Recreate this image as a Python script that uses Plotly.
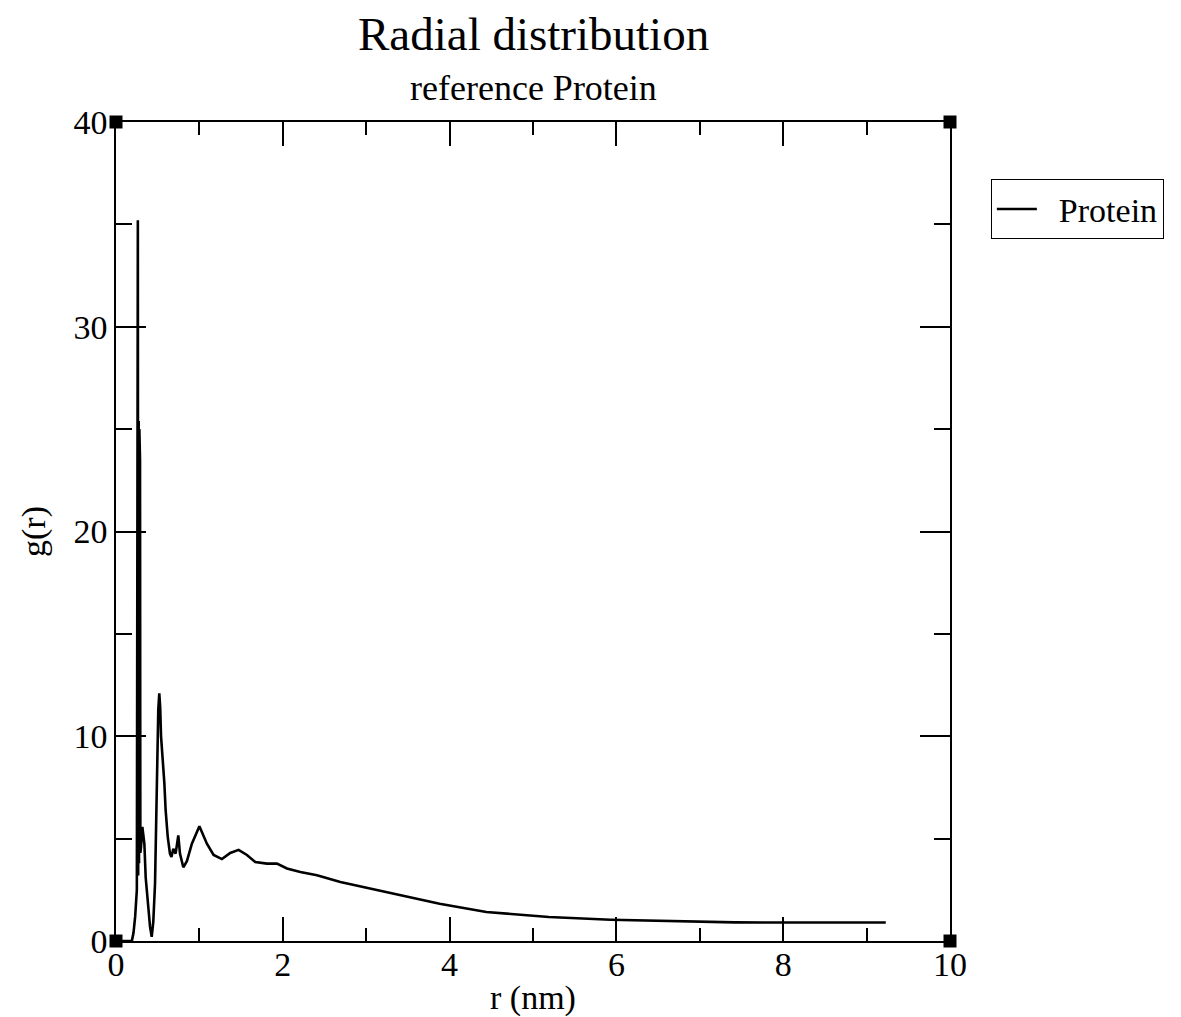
import plotly.graph_objects as go

# ---- data ----
r_nm = [0, 0.19, 0.21, 0.23, 0.25, 0.262, 0.266, 0.272, 0.276, 0.280, 0.284, 0.288, 0.292,
        0.30, 0.316, 0.34, 0.356, 0.38, 0.408, 0.428, 0.447, 0.468, 0.48, 0.495, 0.507,
        0.519, 0.53, 0.54, 0.56, 0.58, 0.595, 0.62, 0.647, 0.665, 0.687, 0.715, 0.747,
        0.767, 0.807, 0.85, 0.91, 1.0, 1.09, 1.17, 1.27, 1.37, 1.47, 1.57, 1.67, 1.81,
        1.93, 2.05, 2.21, 2.41, 2.69, 3.01, 3.29, 3.61, 3.88, 4.44, 5.19, 5.93, 6.68,
        7.42, 8.2, 9.23]
g_r = [0, 0, 0.4, 1.2, 2.5, 35.2, 3.2, 25.4, 3.8, 25.0, 4.0, 23.5, 4.3,
       4.6, 5.57, 4.76, 3.1, 1.8, 0.7, 0.2, 0.93, 2.8, 5.2, 9.6, 11.3,
       12.1, 11.4, 10.0, 9.0, 7.7, 6.4, 5.1, 4.27, 4.1, 4.5, 4.27, 5.16,
       4.27, 3.6, 3.9, 4.75, 5.6, 4.75, 4.2, 4.0, 4.3, 4.45, 4.2, 3.86, 3.78,
       3.78, 3.54, 3.37, 3.21, 2.88, 2.59, 2.35, 2.05, 1.82, 1.42, 1.17, 1.04, 0.96,
       0.91, 0.9, 0.9]
series_name = "Protein"
title_text = "Radial distribution"
subtitle_text = "reference Protein"
x_title = "r (nm)"
y_title = "g(r)"
X_RANGE = [0, 10]
Y_RANGE = [0, 40]
x_tickvals = [0, 2, 4, 6, 8, 10]
y_tickvals = [0, 10, 20, 30, 40]

FONT = "Liberation Serif, Times New Roman, serif"

fig = go.Figure()
fig.add_trace(go.Scatter(x=r_nm, y=g_r, mode="lines", name="\u2002" + series_name,
                         line=dict(color="black", width=2.6)))
# corner squares of the frame (xmgrace style)
fig.add_trace(go.Scatter(x=[X_RANGE[0], X_RANGE[1], X_RANGE[0], X_RANGE[1]],
                         y=[Y_RANGE[0], Y_RANGE[0], Y_RANGE[1], Y_RANGE[1]],
                         mode="markers", showlegend=False, cliponaxis=False,
                         marker=dict(symbol="square", size=13, color="black"),
                         hoverinfo="skip"))

axis_common = dict(showgrid=False, zeroline=False, showline=True, linecolor="black",
                   linewidth=1.5, mirror="allticks", ticks="inside", tickcolor="black",
                   tickwidth=1.5, automargin=False,
                   tickfont=dict(family=FONT, size=34, color="black"))

fig.update_xaxes(range=X_RANGE, tickvals=x_tickvals, ticklen=24, ticklabelstandoff=-8,
                 minor=dict(dtick=1, ticklen=13, tickcolor="black", tickwidth=1.5, ticks="inside"),
                 title=dict(text=x_title, font=dict(family=FONT, size=34, color="black"), standoff=23),
                 **axis_common)
fig.update_yaxes(range=Y_RANGE, tickvals=y_tickvals, ticklen=30,
                 minor=dict(dtick=5, ticklen=16, tickcolor="black", tickwidth=1.5, ticks="inside"),
                 title=dict(text=y_title, font=dict(family=FONT, size=34, color="black"), standoff=18),
                 **axis_common)

# the page body adds an 8 px offset, so the figure is 8 px smaller than the window
fig.update_layout(
    width=1173, height=1009,
    margin=dict(l=108, r=231, t=114, b=76, autoexpand=False),
    paper_bgcolor="white", plot_bgcolor="white",
    annotations=[
        dict(text=title_text, x=0.5, xref="paper", y=1.073, yref="paper",
             xanchor="center", yanchor="bottom", showarrow=False,
             font=dict(family=FONT, size=47, color="black")),
        dict(text=subtitle_text, x=0.5, xref="paper", y=1.0147, yref="paper",
             xanchor="center", yanchor="bottom", showarrow=False,
             font=dict(family=FONT, size=36, color="black"))],
    legend=dict(x=1.049, y=0.93, xanchor="left", yanchor="top", bordercolor="black",
                borderwidth=1, bgcolor="white", itemwidth=40,
                font=dict(family=FONT, size=34, color="black")),
    showlegend=True,
)

fig.write_html("out.html")
